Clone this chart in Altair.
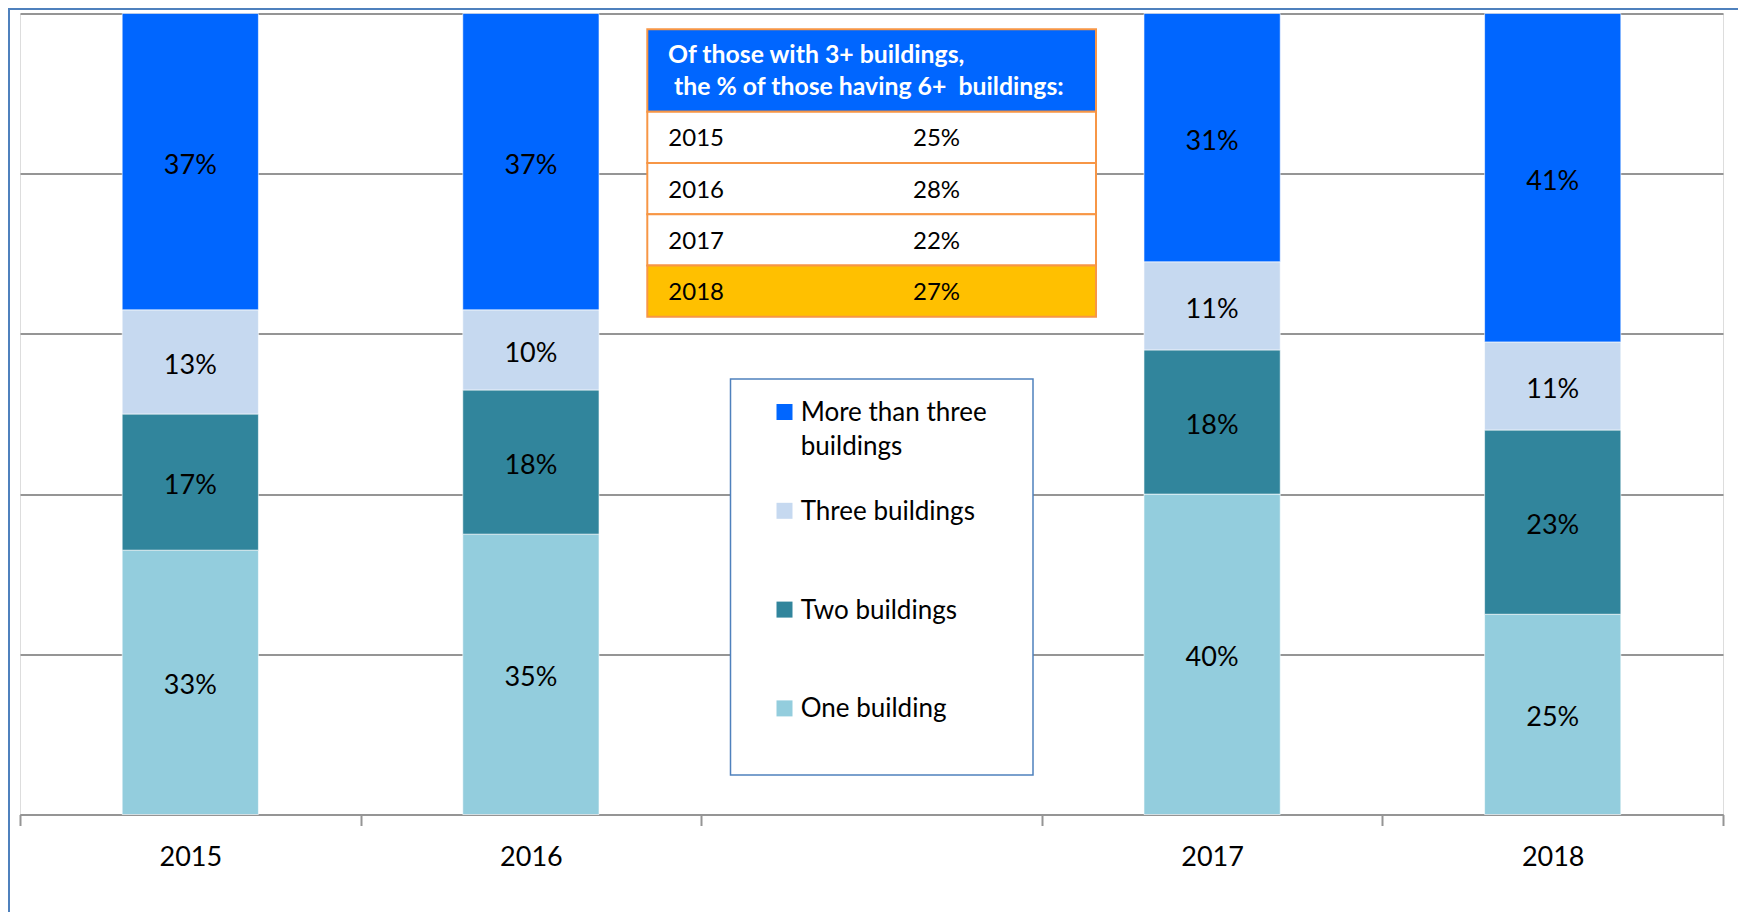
import altair as alt
import pandas as pd

# ---------------- data ----------------
slots = ["2015", "2016", " ", "2017", "2018"]
years = ["2015", "2016", "2017", "2018"]
categories = ["One building", "Two buildings", "Three buildings", "More than three buildings"]
colors = ["#93CDDD", "#31859C", "#C6D9F0", "#0066FF"]
one_building = [33, 35, 40, 25]
two_buildings = [17, 18, 18, 23]
three_buildings = [13, 10, 11, 11]
more_buildings = [37, 37, 31, 41]
six_plus_share = [25, 28, 22, 27]
table_title = ["Of those with 3+ buildings,", "the % of those having 6+\u00a0 buildings:"]
highlight_year = "2018"

FONT = "Lato"
GRID = "#959595"
ORANGE = "#F79646"
FRAME = "#4F81BD"

series = [one_building, two_buildings, three_buildings, more_buildings]
rows = []
for i, yr in enumerate(years):
    base = 0
    for j, cat in enumerate(categories):
        v = series[j][i]
        rows.append({"year": yr, "category": cat, "value": v,
                     "y0": base, "y1": base + v, "mid": base + v / 2,
                     "label": f"{v}%"})
        base += v
bars_df = pd.DataFrame(rows)

color_scale = alt.Scale(domain=categories, range=colors)

x_enc = alt.X(
    "year:N",
    scale=alt.Scale(domain=slots, paddingInner=0, paddingOuter=0),
    axis=alt.Axis(title=None, tickBand="extent", labelAngle=0, labelFontSize=27,
                  labelColor="black", labelFont=FONT, labelPadding=19, tickSize=11,
                  tickColor=GRID, tickWidth=2, domainColor=GRID, domainWidth=2,
                  grid=False),
)
y_enc = alt.Y(
    "y0:Q",
    scale=alt.Scale(domain=[0, 100], nice=False),
    axis=alt.Axis(title=None, values=[0, 20, 40, 60, 80, 100], labels=False,
                  ticks=False, domain=False, grid=True, gridColor=GRID, gridWidth=2),
)

bars = alt.Chart(bars_df).mark_bar(
    width=alt.RelativeBandSize(0.4), stroke="white", strokeWidth=0.6
).encode(
    x=x_enc, y=y_enc, y2="y1:Q",
    color=alt.Color("category:N", scale=color_scale, legend=None),
)
bar_labels = alt.Chart(bars_df).mark_text(
    fontSize=27, font=FONT, color="black", baseline="middle", dy=4
).encode(x=alt.X("year:N"), y=alt.Y("mid:Q"), text="label:N")

# ---------------- inset table ----------------
one_row = pd.DataFrame({"k": [1]})
header_rect = alt.Chart(one_row).mark_rect(
    fill="#0066FF", stroke=ORANGE, strokeWidth=2
).encode(x=alt.value(627.3), x2=alt.value(1076), y=alt.value(15.8), y2=alt.value(98.2))

header_text = alt.Chart(pd.DataFrame({"line": table_title})).transform_window(
    k="row_number()"
).transform_calculate(
    hx="648 + (datum.k - 1) * 6", hy="42.5 + (datum.k - 1) * 32.3"
).mark_text(
    align="left", baseline="middle", fontSize=24.8, fontWeight="bold", color="white", font=FONT
).encode(x=alt.X("hx:Q", scale=None), y=alt.Y("hy:Q", scale=None), text="line:N")

tbl = pd.DataFrame({"year": years, "share": six_plus_share})
table_base = alt.Chart(tbl).transform_window(k="row_number()").transform_calculate(
    ty0="98.2 + (datum.k - 1) * 51.25",
    ty1="98.2 + datum.k * 51.25",
    tym="98.2 + (datum.k - 0.5) * 51.25 + 2",
    label="datum.share + '%'",
)
rows_rect = table_base.mark_rect(stroke=ORANGE, strokeWidth=2).encode(
    x=alt.value(627.3), x2=alt.value(1076),
    y=alt.Y("ty0:Q", scale=None), y2="ty1:Q",
    fill=alt.condition(alt.datum.year == highlight_year, alt.value("#FFC000"), alt.value("white")),
)
rows_year = table_base.mark_text(
    align="left", baseline="middle", fontSize=24, color="black", font=FONT
).encode(x=alt.value(648.3), y=alt.Y("tym:Q", scale=None), text="year:N")
rows_val = table_base.mark_text(
    align="left", baseline="middle", fontSize=24, color="black", font=FONT
).encode(x=alt.value(893), y=alt.Y("tym:Q", scale=None), text="label:N")

# ---------------- legend ----------------
leg_box = alt.Chart(one_row).mark_rect(
    fill="white", stroke=FRAME, strokeWidth=1.5
).encode(x=alt.value(710.5), x2=alt.value(1013), y=alt.value(365.5), y2=alt.value(761.5))

leg = alt.Chart(pd.DataFrame({"category": categories[::-1]})).transform_window(
    k="row_number()"
).transform_calculate(
    ly="398.5 + (datum.k - 1) * 98.8",
    label="replace(datum.category, 'than three ', 'than three\\n')",
)
leg_sym = leg.mark_square(size=256, opacity=1).encode(
    x=alt.value(764.5), y=alt.Y("ly:Q", scale=None),
    color=alt.Color("category:N", scale=color_scale, legend=None),
)
leg_txt = leg.mark_text(
    align="left", baseline="top", dy=-12, fontSize=26, lineBreak="\n",
    lineHeight=34, color="black", font=FONT,
).encode(x=alt.value(780.7), y=alt.Y("ly:Q", scale=None), text="label:N")

# ---------------- outer frame ----------------
frame_left = alt.Chart(one_row).mark_rule(color=FRAME, strokeWidth=2).encode(
    x=alt.value(-11), y=alt.value(-5.5), y2=alt.value(898.5)
)
frame_top = alt.Chart(one_row).mark_rule(color=FRAME, strokeWidth=2).encode(
    x=alt.value(-12), x2=alt.value(1718), y=alt.value(-4.5)
)

chart = alt.layer(
    bars, bar_labels,
    header_rect, header_text, rows_rect, rows_year, rows_val,
    leg_box, leg_sym, leg_txt,
    frame_left, frame_top,
).properties(
    width=1703, height=801,
    autosize=alt.AutoSizeParams(type="none"),
    padding={"left": 12, "top": 5.5, "right": 15, "bottom": 97.5},
).configure_view(strokeWidth=0).configure(font=FONT)

chart.save("out.html", embed_options={"renderer": "svg", "actions": False})
